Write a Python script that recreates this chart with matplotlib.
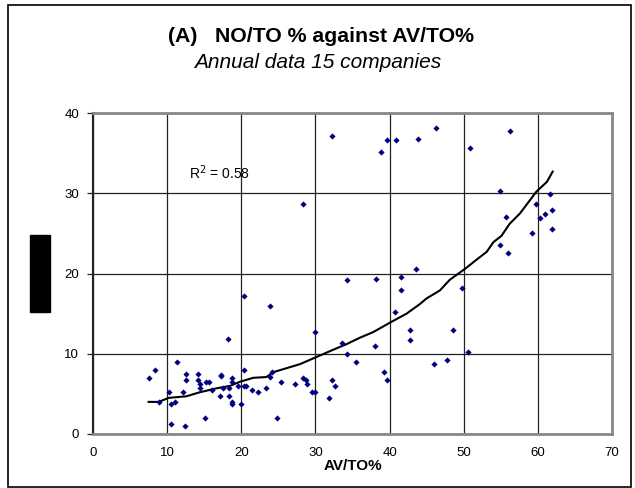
import matplotlib
matplotlib.use("Agg")
import matplotlib.pyplot as plt
from matplotlib.patches import Rectangle

plt.rcParams['font.family'] = ['Liberation Sans', 'DejaVu Sans']

av_to = [7.5, 8.4, 8.85, 10.2, 10.5, 10.5, 11.05, 11.3, 12.1, 12.35, 12.6, 12.6,
         14.2, 14.2, 14.4, 14.4, 15.05, 15.2, 15.6, 16.1, 17.1, 17.2, 17.2, 17.5,
         18.2, 18.3, 18.3, 18.8, 18.8, 18.8, 18.8, 19.6, 19.9, 20.4, 20.4, 20.4,
         20.7, 21.5, 22.3, 23.4, 23.9, 23.9, 24.2, 24.75, 25.3, 27.2, 28.3, 28.3,
         28.7, 28.8, 29.5, 29.9, 29.9, 31.8, 32.3, 32.3, 32.6, 33.65, 34.2, 34.2,
         35.5, 38.0, 38.2, 38.8, 39.3, 39.6, 39.6, 40.7, 40.9, 41.5, 41.5, 42.8,
         42.8, 43.6, 43.9, 46.05, 46.3, 47.7, 48.5, 49.8, 50.6, 50.9, 54.95, 54.95,
         55.75, 56.0, 56.3, 59.25, 59.8, 60.35, 60.9, 61.7, 61.95, 61.95]
no_to = [7.0, 8.0, 4.0, 5.2, 3.7, 1.25, 4.0, 9.0, 5.2, 1.0, 7.5, 6.7,
         7.5, 6.7, 6.2, 5.7, 2.0, 6.5, 6.5, 5.5, 4.7, 7.4, 7.2, 5.7,
         11.9, 5.7, 4.7, 7.0, 6.5, 4.0, 3.7, 6.0, 3.7, 17.2, 8.0, 6.0,
         6.0, 5.5, 5.2, 5.7, 15.9, 7.1, 7.7, 2.0, 6.5, 6.2, 28.6, 7.0,
         6.7, 6.2, 5.2, 5.2, 12.7, 4.5, 37.1, 6.7, 6.0, 11.4, 10.0, 19.2,
         9.0, 11.0, 19.3, 35.1, 7.7, 6.7, 36.6, 15.2, 36.6, 17.9, 19.6, 13.0,
         11.7, 20.6, 36.8, 8.7, 38.1, 9.2, 13.0, 18.2, 10.2, 35.6, 30.3, 23.6,
         27.1, 22.6, 37.8, 25.1, 28.6, 26.9, 27.4, 29.85, 27.9, 25.6]

trend_x = [7.5, 8.85, 10.2, 12.6, 14.4, 16.7, 18.5, 19.8, 21.6, 23.4, 24.3, 27.9,
           29.9, 32.4, 34.2, 36.0, 37.8, 40.1, 42.3, 44.1, 45.0, 46.8, 48.1,
           50.2, 51.7, 53.1, 54.0, 55.1, 56.2, 57.6, 59.8, 61.2, 62.0]
trend_y = [4.0, 4.0, 4.5, 4.7, 5.2, 5.7, 6.0, 6.5, 7.0, 7.1, 7.7, 8.7,
           9.5, 10.5, 11.2, 12.0, 12.7, 13.9, 15.0, 16.2, 16.9, 17.9, 19.2,
           20.6, 21.7, 22.7, 23.9, 24.7, 26.2, 27.5, 30.2, 31.4, 32.7]

x_ticks = [0, 10, 20, 30, 40, 50, 60, 70]
y_ticks = [0, 10, 20, 30, 40]

W, H = 635, 488
fig = plt.figure(figsize=(W / 100, H / 100), dpi=100)
ax = fig.add_axes([93 / W, 1 - 434 / H, (612 - 93) / W, (434 - 113) / H])

ax.set_xlim(0, 70)
ax.set_ylim(0, 40)
ax.set_xticks(x_ticks)
ax.set_yticks(y_ticks)
ax.grid(True, color='#222222', linewidth=0.9)
ax.set_axisbelow(True)

ax.plot(trend_x, trend_y, color='black', linewidth=1.5, zorder=3)
ax.scatter(av_to, no_to, marker='D', s=10, color='#000080', zorder=4, linewidths=0)

for side in ['top', 'right', 'bottom']:
    ax.spines[side].set_color('#888888')
    ax.spines[side].set_linewidth(2)
ax.spines['left'].set_color('#222222')
ax.spines['left'].set_linewidth(1.5)

ax.tick_params(axis='x', labelsize=9.5, length=0, pad=9)
ax.tick_params(axis='y', labelsize=9.5, length=4, color='#222222', direction='out',
               width=0.9, pad=6)
ax.set_xlabel('AV/TO%', fontsize=11, fontweight='bold', labelpad=0)

ax.text(13.0, 32.6, r'R$^2$ = 0.58', fontsize=10, va='center', ha='left')

fig.text(321 / W, 1 - 36 / H, '(A)   NO/TO % against AV/TO%', fontsize=15.3,
         fontweight='bold', ha='center', va='center')
fig.text(318 / W, 1 - 62 / H, 'Annual data 15 companies', fontsize=15,
         style='italic', ha='center', va='center')

fig.patches.append(Rectangle((30 / W, 1 - 312 / H), 20 / W, 77 / H,
                             transform=fig.transFigure, color='black'))
fig.patches.append(Rectangle((8 / W, 1 - 487 / H), 623 / W, 482 / H,
                             transform=fig.transFigure, fill=False,
                             edgecolor='black', linewidth=1.2))

fig.savefig('out.png', dpi=100)
